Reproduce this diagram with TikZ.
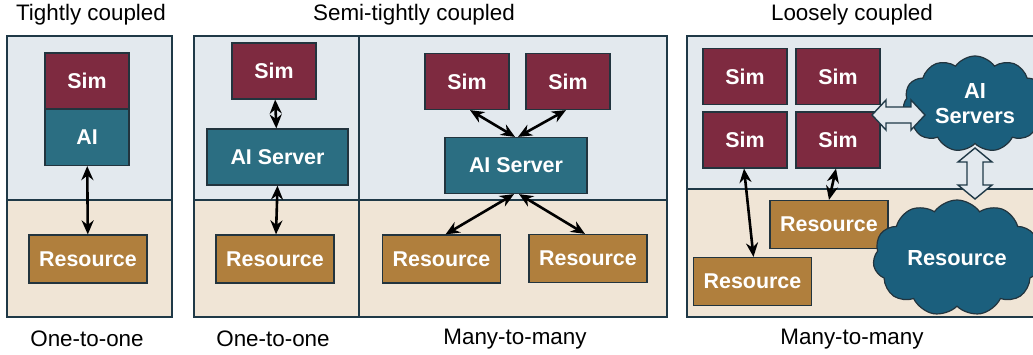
\documentclass[tikz,border=0pt]{standalone}
\usepackage{fontspec}
\setmainfont{Liberation Sans}
\usetikzlibrary{arrows.meta,shapes.symbols}
\definecolor{bgblue}{HTML}{E3E9EE}
\definecolor{bgsand}{HTML}{F0E5D6}
\definecolor{panelline}{HTML}{1F3947}
\definecolor{boxline}{HTML}{22343E}
\definecolor{simred}{HTML}{7E2A40}
\definecolor{aiteal}{HTML}{2B6E82}
\definecolor{resbrown}{HTML}{B07F3D}
\definecolor{cloudblue}{HTML}{1B5F7D}
\tikzset{
	box/.style={draw=boxline,line width=0.6pt,text=white,font=\fontsize{10.7}{12}\selectfont\bfseries,inner sep=0pt,minimum width=42pt,minimum height=28pt},
	sim/.style={box,fill=simred},
	ai/.style={box,fill=aiteal},
	res/.style={box,fill=resbrown,minimum width=59pt,minimum height=24pt},
	puff/.style={cloud,cloud puffs=11,cloud puff arc=110,cloud ignores aspect,draw=boxline,line width=0.6pt,fill=cloudblue,text=white,align=center,font=\fontsize{10.9}{12.5}\selectfont\bfseries,inner sep=0pt},
	fat/.style={draw=panelline,line width=0.7pt,fill=bgblue,line join=miter},
	caption/.style={font=\fontsize{11.2}{13}\selectfont}
}
\begin{document}
\begin{tikzpicture}[x=0.5pt,y=-0.5pt]
		\useasboundingbox (0,0) rectangle (1033,354);
		% panels
		\fill[bgblue] (7,36) rectangle (172,200);
		\fill[bgsand] (7,200) rectangle (172,317);
		\draw[panelline,line width=0.8pt] (7,36) rectangle (172,317) (7,200) -- (172,200);
		\fill[bgblue] (194,36) rectangle (667,200);
		\fill[bgsand] (194,200) rectangle (667,317);
		\draw[panelline,line width=0.8pt] (194,36) rectangle (667,317) (194,200) -- (667,200) (359,36) -- (359,317);
		\fill[bgblue] (687,36) rectangle (1040,189);
		\fill[bgsand] (687,189) rectangle (1040,317);
		\draw[panelline,line width=0.8pt] (687,36) rectangle (1040,317) (687,189) -- (1040,189);
		% captions
		\node[caption] (t1) at (91,15) {Tightly coupled};
		\node[caption] (t2) at (414,15) {Semi-tightly coupled};
		\node[caption] (t3) at (852,15) {Loosely coupled};
		\node[caption] (b1) at (87,339) {One-to-one};
		\node[caption] (b2) at (273,339) {One-to-one};
		\node[caption] (b3) at (515,339) {Many-to-many};
		\node[caption] (b4) at (852,339) {Many-to-many};
		% tightly coupled
		\node[sim] (simA) at (87,81) {Sim};
		\node[ai] (aiA) at (87,137.5) {AI};
		\node[res] (resA) at (88,259) {Resource};
		% semi-tightly, one-to-one
		\node[sim] (simB) at (274,71) {Sim};
		\node[ai,minimum width=70.5pt] (aiB) at (277.5,157) {AI Server};
		\node[res] (resB) at (275,259) {Resource};
		% semi-tightly, many-to-many
		\node[sim] (simC1) at (467,81.5) {Sim};
		\node[sim] (simC2) at (568,81.5) {Sim};
		\node[ai,minimum width=71pt] (aiC) at (516,165.5) {AI Server};
		\node[res] (resC1) at (441.5,259) {Resource};
		\node[res] (resC2) at (588,258.5) {Resource};
		% loosely coupled
		\node[sim] (simD1) at (745,76.5) {Sim};
		\node[sim] (simD2) at (838,76.5) {Sim};
		\node[sim] (simD3) at (745,140) {Sim};
		\node[sim] (simD4) at (838,140) {Sim};
		\node[res] (resD1) at (829,224.5) {Resource};
		\node[res] (resD2) at (752.5,281.5) {Resource};
		\node[puff,minimum width=72pt,minimum height=48pt] (aiD) at (975,104) {AI\\Servers};
		\node[puff,minimum width=84pt,minimum height=58pt] (resD) at (957,258) {Resource};
		% wide links to the clouds
		\draw[fat] (872,115) -- (886,100) -- (886,107) -- (911,107) -- (911,100) -- (925,115)
			-- (911,130) -- (911,123) -- (886,123) -- (886,130) -- cycle;
		\draw[fat] (975,148) -- (992,162) -- (983,162) -- (983,185) -- (992,185) -- (975,199)
			-- (958,185) -- (967,185) -- (967,162) -- (958,162) -- cycle;
		% links
		\path[{Stealth[length=7pt,width=6pt]}-{Stealth[length=7pt,width=6pt]},line width=1.3pt]
		(aiA) edge (resA)
		(simB) edge (aiB)
		(aiB.south) edge ([xshift=0.5pt]resB.north)
		([xshift=1.5pt]simC1.south) edge ([xshift=-0.5pt]aiC.north)
		([xshift=-1pt]simC2.south) edge ([xshift=1pt]aiC.north)
		([xshift=-1pt]aiC.south) edge ([xshift=2pt]resC1.north)
		([xshift=1.5pt]aiC.south) edge ([xshift=-1.5pt]resC2.north)
		([xshift=-0.5pt]simD3.south) edge ([xshift=0.5pt]resD2.north)
		([xshift=-1pt]simD4.south) edge (resD1.north);
	\end{tikzpicture}
\end{document}
